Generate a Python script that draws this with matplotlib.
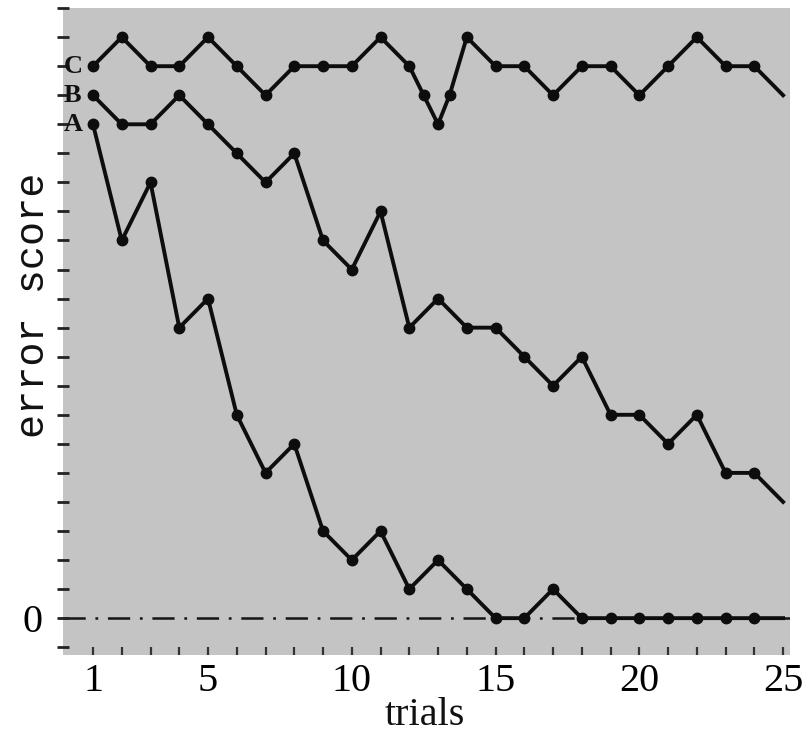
import matplotlib
matplotlib.use("Agg")
import matplotlib.pyplot as plt

# error scores (y tick spacing = 1 unit)
trials = list(range(1, 26))
a_err = [17, 13, 15, 10, 11, 7, 5, 6, 3, 2, 3, 1, 2, 1, 0, 0, 1, 0, 0, 0, 0, 0, 0, 0, 0]
b_err = [18, 17, 17, 18, 17, 16, 15, 16, 13, 12, 14, 10, 11, 10, 10, 9, 8, 9, 7, 7, 6, 7, 5, 5, 4]
c_trials = list(range(1, 13)) + [12.5, 13, 13.4] + list(range(14, 26))
c_err = [19, 20, 19, 19, 20, 19, 18, 19, 19, 19, 20, 19,
         18, 17, 18,
         20, 19, 19, 18, 19, 19, 18, 19, 20, 19, 19, 18]
series = [("A", trials, a_err), ("B", trials, b_err), ("C", c_trials, c_err)]
xtick_labels = [1, 5, 10, 15, 20, 25]

plt.rcParams["lines.scale_dashes"] = False
serif = ["Liberation Serif", "DejaVu Serif"]

fig = plt.figure(figsize=(8.09, 7.36), dpi=100)
ax = fig.add_axes([0.078, 0.110, 0.8985, 0.879])
ax.set_facecolor("#c4c4c4")
for s in ax.spines.values():
    s.set_visible(False)

# zero reference line
ax.axhline(0, color="#151515", lw=1.8, ls=(0, (16, 7, 2, 7)), zorder=1)

for name, xs, ys in series:
    ax.plot(xs, ys, color="#0d0d0d", lw=2.8, marker="o", ms=7.5,
            markevery=list(range(len(xs) - 1)), zorder=3)
    ax.text(0.3, ys[0], name, ha="center", va="center", fontsize=19,
            fontweight="bold", family=serif, color="#111111", zorder=4)

ax.set_xlim(-0.04, 25.24)
ax.set_ylim(-1.27, 21.0)

ax.set_xticks(trials)
ax.set_xticklabels([str(t) if t in xtick_labels else "" for t in trials],
                   family=serif, fontsize=29)
ax.tick_params(axis="x", direction="in", length=6, width=1.6, color="#333333", pad=6)

yt = list(range(-1, 22))
ax.set_yticks(yt)
ax.set_yticklabels(["0" if v == 0 else "" for v in yt], family=serif, fontsize=29)
ax.tick_params(axis="y", direction="inout", length=9, width=2, color="#222222", pad=10)

fig.text(0.041, 0.585, "error score", rotation=90, ha="center", va="center",
         family=["Liberation Mono", "DejaVu Sans Mono"], fontsize=29, color="#111111")
fig.text(0.525, 0.028, "trials", ha="center", va="center", family=serif,
         fontsize=29, color="#111111")

fig.savefig("out.png", dpi=100)
